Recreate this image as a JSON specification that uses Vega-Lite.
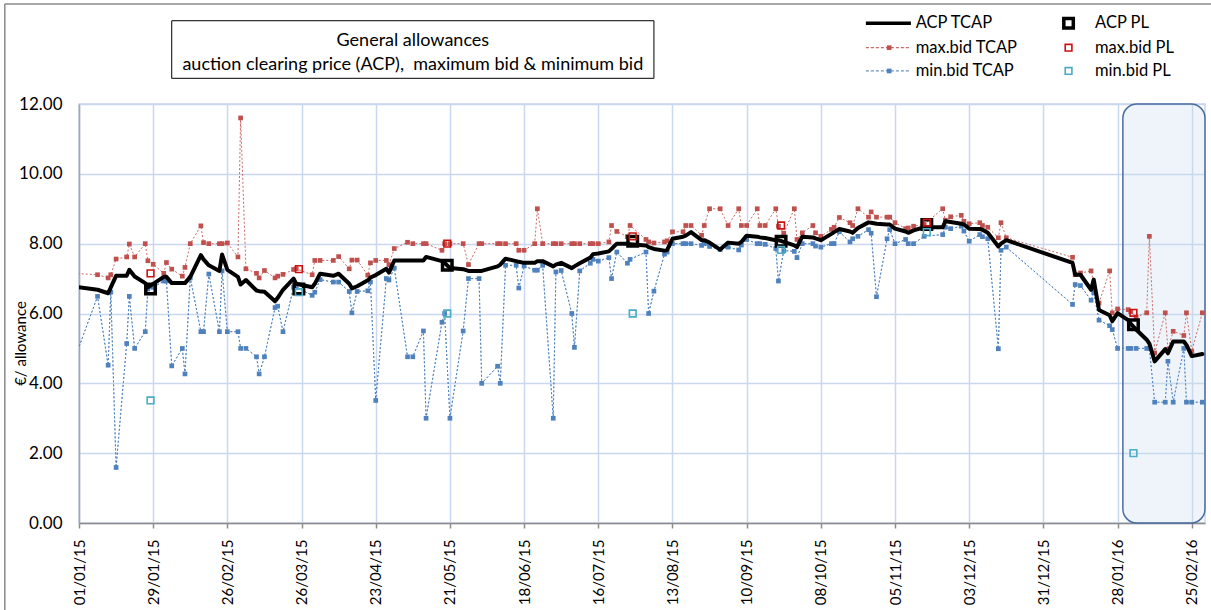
{
  "$schema": "https://vega.github.io/schema/vega-lite/v6.json",
  "width": 1126,
  "height": 419,
  "autosize": "none",
  "padding": {"left": 79, "top": 104, "right": 6, "bottom": 87},
  "background": "white",
  "config": {
    "view": {"stroke": "#c9d8ee", "strokeWidth": 1.5},
    "font": "Lato",
    "axisX": {"labelFont": "Lato", "labelFontSize": 15, "labelColor": "#000000"},
    "axisY": {
      "labelFont": "Lato", "labelFontSize": 17, "labelColor": "#000000", "labelPadding": 17,
      "titleFont": "Lato", "titleFontSize": 15, "titleFontWeight": "normal", "titleColor": "#000000"
    }
  },
  "datasets": {
    "tcap": [
      {"d": "2014/12/30", "mx": 7.15, "mn": 4.63, "acp": 6.77},
      {"d": "2015/01/08", "mx": 7.11, "mn": 6.49, "acp": 6.68},
      {"d": "2015/01/12", "mx": 7.02, "mn": 4.52, "acp": 6.58},
      {"d": "2015/01/13", "mx": 7.11, "mn": 6.61, "acp": 6.75},
      {"d": "2015/01/15", "mx": 7.56, "mn": 1.59, "acp": 7.08},
      {"d": "2015/01/19", "mx": 7.62, "mn": 5.14, "acp": 7.08},
      {"d": "2015/01/20", "mx": 7.99, "mn": 6.49, "acp": 7.25},
      {"d": "2015/01/22", "mx": 7.62, "mn": 5.0, "acp": 7.06},
      {"d": "2015/01/26", "mx": 8.0, "mn": 5.48, "acp": 6.87},
      {"d": "2015/01/27", "mx": 7.51, "mn": 6.7, "acp": 6.75},
      {"d": "2015/01/29", "mx": 7.41, "mn": 6.75, "acp": 6.85},
      {"d": "2015/02/02", "mx": 7.15, "mn": 6.93, "acp": 7.05},
      {"d": "2015/02/03", "mx": 7.46, "mn": 6.93, "acp": 7.05},
      {"d": "2015/02/05", "mx": 7.27, "mn": 4.5, "acp": 6.87},
      {"d": "2015/02/09", "mx": 7.07, "mn": 5.0, "acp": 6.87},
      {"d": "2015/02/10", "mx": 7.32, "mn": 4.27, "acp": 6.87},
      {"d": "2015/02/12", "mx": 8.0, "mn": 7.02, "acp": 7.05},
      {"d": "2015/02/16", "mx": 8.51, "mn": 5.48, "acp": 7.67},
      {"d": "2015/02/17", "mx": 8.03, "mn": 5.48, "acp": 7.55},
      {"d": "2015/02/19", "mx": 8.0, "mn": 7.13, "acp": 7.38},
      {"d": "2015/02/23", "mx": 8.0, "mn": 5.48, "acp": 7.22},
      {"d": "2015/02/24", "mx": 8.0, "mn": 7.22, "acp": 7.69},
      {"d": "2015/02/26", "mx": 8.02, "mn": 5.48, "acp": 7.25},
      {"d": "2015/03/02", "mx": 7.62, "mn": 5.48, "acp": 7.05},
      {"d": "2015/03/03", "mx": 11.6, "mn": 5.0, "acp": 6.83},
      {"d": "2015/03/05", "mx": 7.28, "mn": 5.0, "acp": 6.96},
      {"d": "2015/03/09", "mx": 7.15, "mn": 4.76, "acp": 6.66},
      {"d": "2015/03/10", "mx": 7.02, "mn": 4.27, "acp": 6.64},
      {"d": "2015/03/12", "mx": 7.23, "mn": 4.76, "acp": 6.62},
      {"d": "2015/03/16", "mx": 7.02, "mn": 6.17, "acp": 6.35},
      {"d": "2015/03/17", "mx": 7.07, "mn": 6.21, "acp": 6.45},
      {"d": "2015/03/19", "mx": 7.12, "mn": 5.48, "acp": 6.68},
      {"d": "2015/03/23", "mx": 7.26, "mn": 6.75, "acp": 7.0},
      {"d": "2015/03/24", "mx": 7.28, "mn": 6.75, "acp": 6.85},
      {"d": "2015/03/30", "mx": 7.11, "mn": 6.52, "acp": 6.75},
      {"d": "2015/03/31", "mx": 7.52, "mn": 6.61, "acp": 6.85},
      {"d": "2015/04/02", "mx": 7.52, "mn": 6.97, "acp": 7.14},
      {"d": "2015/04/07", "mx": 7.52, "mn": 6.9, "acp": 7.08},
      {"d": "2015/04/09", "mx": 7.63, "mn": 6.9, "acp": 7.14},
      {"d": "2015/04/13", "mx": 7.28, "mn": 6.63, "acp": 6.85},
      {"d": "2015/04/14", "mx": 7.53, "mn": 6.02, "acp": 6.72},
      {"d": "2015/04/16", "mx": 7.53, "mn": 6.63, "acp": 6.78},
      {"d": "2015/04/20", "mx": 7.1, "mn": 6.65, "acp": 6.95},
      {"d": "2015/04/21", "mx": 7.45, "mn": 6.9, "acp": 7.03},
      {"d": "2015/04/23", "mx": 7.52, "mn": 3.51, "acp": 7.1},
      {"d": "2015/04/27", "mx": 7.52, "mn": 7.0, "acp": 7.28},
      {"d": "2015/04/28", "mx": 7.4, "mn": 6.96, "acp": 7.17},
      {"d": "2015/04/30", "mx": 7.86, "mn": 7.3, "acp": 7.52},
      {"d": "2015/05/05", "mx": 8.04, "mn": 4.76, "acp": 7.52},
      {"d": "2015/05/07", "mx": 8.0, "mn": 4.76, "acp": 7.52},
      {"d": "2015/05/11", "mx": 8.0, "mn": 5.5, "acp": 7.52},
      {"d": "2015/05/12", "mx": 8.0, "mn": 3.0, "acp": 7.62},
      {"d": "2015/05/18", "mx": 7.81, "mn": 5.75, "acp": 7.5},
      {"d": "2015/05/19", "mx": 8.0, "mn": 6.0, "acp": 7.45},
      {"d": "2015/05/21", "mx": 8.0, "mn": 3.0, "acp": 7.3},
      {"d": "2015/05/26", "mx": 8.0, "mn": 5.5, "acp": 7.27},
      {"d": "2015/05/28", "mx": 7.4, "mn": 7.0, "acp": 7.22},
      {"d": "2015/06/01", "mx": 8.0, "mn": 7.0, "acp": 7.22},
      {"d": "2015/06/02", "mx": 8.0, "mn": 4.0, "acp": 7.22},
      {"d": "2015/06/08", "mx": 8.0, "mn": 4.49, "acp": 7.35},
      {"d": "2015/06/09", "mx": 8.0, "mn": 4.0, "acp": 7.4},
      {"d": "2015/06/11", "mx": 8.0, "mn": 7.38, "acp": 7.57},
      {"d": "2015/06/15", "mx": 8.0, "mn": 7.38, "acp": 7.5},
      {"d": "2015/06/16", "mx": 7.81, "mn": 6.73, "acp": 7.48},
      {"d": "2015/06/18", "mx": 7.81, "mn": 7.36, "acp": 7.45},
      {"d": "2015/06/22", "mx": 8.0, "mn": 7.24, "acp": 7.45},
      {"d": "2015/06/23", "mx": 9.0, "mn": 7.24, "acp": 7.5},
      {"d": "2015/06/25", "mx": 8.0, "mn": 7.38, "acp": 7.5},
      {"d": "2015/06/29", "mx": 8.0, "mn": 3.0, "acp": 7.35},
      {"d": "2015/06/30", "mx": 8.0, "mn": 7.19, "acp": 7.4},
      {"d": "2015/07/02", "mx": 8.0, "mn": 7.23, "acp": 7.45},
      {"d": "2015/07/06", "mx": 8.0, "mn": 6.0, "acp": 7.3},
      {"d": "2015/07/07", "mx": 8.0, "mn": 5.03, "acp": 7.35},
      {"d": "2015/07/09", "mx": 8.0, "mn": 7.22, "acp": 7.44},
      {"d": "2015/07/13", "mx": 8.0, "mn": 7.44, "acp": 7.6},
      {"d": "2015/07/14", "mx": 8.0, "mn": 7.55, "acp": 7.7},
      {"d": "2015/07/16", "mx": 8.0, "mn": 7.5, "acp": 7.72},
      {"d": "2015/07/20", "mx": 8.05, "mn": 7.6, "acp": 7.78},
      {"d": "2015/07/21", "mx": 8.52, "mn": 7.0, "acp": 7.85},
      {"d": "2015/07/23", "mx": 8.35, "mn": 7.76, "acp": 8.0},
      {"d": "2015/07/27", "mx": 8.2, "mn": 7.44, "acp": 8.0},
      {"d": "2015/07/28", "mx": 8.52, "mn": 7.55, "acp": 7.98},
      {"d": "2015/08/03", "mx": 8.12, "mn": 7.76, "acp": 7.95},
      {"d": "2015/08/04", "mx": 8.05, "mn": 6.0, "acp": 7.9},
      {"d": "2015/08/06", "mx": 8.02, "mn": 6.64, "acp": 7.85},
      {"d": "2015/08/10", "mx": 8.05, "mn": 7.7, "acp": 7.8},
      {"d": "2015/08/11", "mx": 8.08, "mn": 7.76, "acp": 7.82},
      {"d": "2015/08/13", "mx": 8.34, "mn": 8.0, "acp": 8.14},
      {"d": "2015/08/17", "mx": 8.34, "mn": 8.0, "acp": 8.2},
      {"d": "2015/08/18", "mx": 8.52, "mn": 8.0, "acp": 8.23},
      {"d": "2015/08/20", "mx": 8.52, "mn": 8.0, "acp": 8.33},
      {"d": "2015/08/24", "mx": 8.24, "mn": 7.95, "acp": 8.1},
      {"d": "2015/08/25", "mx": 8.52, "mn": 8.0, "acp": 8.1},
      {"d": "2015/08/27", "mx": 9.0, "mn": 7.92, "acp": 8.03},
      {"d": "2015/08/31", "mx": 9.0, "mn": 7.83, "acp": 7.83},
      {"d": "2015/09/03", "mx": 8.52, "mn": 7.9, "acp": 8.03},
      {"d": "2015/09/07", "mx": 9.0, "mn": 7.82, "acp": 8.0},
      {"d": "2015/09/08", "mx": 8.52, "mn": 7.96, "acp": 8.05},
      {"d": "2015/09/10", "mx": 8.52, "mn": 8.12, "acp": 8.23},
      {"d": "2015/09/14", "mx": 9.0, "mn": 8.0, "acp": 8.2},
      {"d": "2015/09/15", "mx": 8.52, "mn": 8.0, "acp": 8.18},
      {"d": "2015/09/17", "mx": 8.52, "mn": 7.98, "acp": 8.16},
      {"d": "2015/09/21", "mx": 9.0, "mn": 7.86, "acp": 8.1},
      {"d": "2015/09/22", "mx": 8.5, "mn": 6.93, "acp": 8.1},
      {"d": "2015/09/24", "mx": 8.3, "mn": 7.8, "acp": 8.05},
      {"d": "2015/09/28", "mx": 9.0, "mn": 7.78, "acp": 7.95},
      {"d": "2015/09/29", "mx": 8.12, "mn": 7.6, "acp": 7.9},
      {"d": "2015/10/01", "mx": 8.31, "mn": 8.0, "acp": 8.2},
      {"d": "2015/10/05", "mx": 8.52, "mn": 8.0, "acp": 8.18},
      {"d": "2015/10/06", "mx": 8.31, "mn": 7.93, "acp": 8.15},
      {"d": "2015/10/08", "mx": 8.21, "mn": 7.9, "acp": 8.1},
      {"d": "2015/10/12", "mx": 8.41, "mn": 8.0, "acp": 8.28},
      {"d": "2015/10/13", "mx": 8.47, "mn": 8.0, "acp": 8.33},
      {"d": "2015/10/15", "mx": 8.75, "mn": 8.34, "acp": 8.42},
      {"d": "2015/10/19", "mx": 8.6, "mn": 8.05, "acp": 8.35},
      {"d": "2015/10/20", "mx": 8.52, "mn": 8.14, "acp": 8.31},
      {"d": "2015/10/22", "mx": 9.0, "mn": 8.21, "acp": 8.45},
      {"d": "2015/10/26", "mx": 8.76, "mn": 8.4, "acp": 8.61},
      {"d": "2015/10/27", "mx": 8.91, "mn": 8.3, "acp": 8.6},
      {"d": "2015/10/29", "mx": 8.76, "mn": 6.48, "acp": 8.57},
      {"d": "2015/11/02", "mx": 8.76, "mn": 8.14, "acp": 8.55},
      {"d": "2015/11/03", "mx": 8.76, "mn": 8.4, "acp": 8.55},
      {"d": "2015/11/05", "mx": 8.6, "mn": 8.0, "acp": 8.43},
      {"d": "2015/11/09", "mx": 8.43, "mn": 8.12, "acp": 8.35},
      {"d": "2015/11/10", "mx": 8.45, "mn": 8.0, "acp": 8.31},
      {"d": "2015/11/12", "mx": 8.5, "mn": 8.0, "acp": 8.38},
      {"d": "2015/11/16", "mx": 8.55, "mn": 8.21, "acp": 8.47},
      {"d": "2015/11/23", "mx": 9.0, "mn": 8.26, "acp": 8.47},
      {"d": "2015/11/24", "mx": 8.67, "mn": 8.47, "acp": 8.64},
      {"d": "2015/11/26", "mx": 8.77, "mn": 8.43, "acp": 8.62},
      {"d": "2015/11/30", "mx": 8.81, "mn": 8.5, "acp": 8.57},
      {"d": "2015/12/01", "mx": 8.64, "mn": 8.36, "acp": 8.55},
      {"d": "2015/12/03", "mx": 8.57, "mn": 8.07, "acp": 8.43},
      {"d": "2015/12/07", "mx": 8.6, "mn": 8.26, "acp": 8.42},
      {"d": "2015/12/08", "mx": 8.52, "mn": 8.2, "acp": 8.4},
      {"d": "2015/12/10", "mx": 8.47, "mn": 8.14, "acp": 8.31},
      {"d": "2015/12/14", "mx": 8.17, "mn": 4.99, "acp": 7.92},
      {"d": "2015/12/15", "mx": 8.6, "mn": 7.81, "acp": 8.0},
      {"d": "2015/12/17", "mx": 8.17, "mn": 7.9, "acp": 8.1},
      {"d": "2016/01/11", "mx": 7.61, "mn": 6.26, "acp": 7.45},
      {"d": "2016/01/12", "mx": 7.11, "mn": 6.83, "acp": 7.11},
      {"d": "2016/01/14", "mx": 7.16, "mn": 6.8, "acp": 7.11},
      {"d": "2016/01/18", "mx": 7.22, "mn": 6.38, "acp": 6.68},
      {"d": "2016/01/19", "mx": 6.87, "mn": 6.6, "acp": 6.97},
      {"d": "2016/01/21", "mx": 6.3, "mn": 5.81, "acp": 6.1},
      {"d": "2016/01/25", "mx": 7.22, "mn": 5.65, "acp": 5.95},
      {"d": "2016/01/26", "mx": 6.02, "mn": 5.54, "acp": 5.78},
      {"d": "2016/01/28", "mx": 6.13, "mn": 5.0, "acp": 6.01},
      {"d": "2016/02/01", "mx": 6.11, "mn": 5.0, "acp": 5.81},
      {"d": "2016/02/02", "mx": 6.05, "mn": 5.0, "acp": 5.7},
      {"d": "2016/02/04", "mx": 5.9, "mn": 5.0, "acp": 5.54},
      {"d": "2016/02/08", "mx": 6.02, "mn": 5.0, "acp": 5.25},
      {"d": "2016/02/09", "mx": 8.21, "mn": 5.0, "acp": 5.14},
      {"d": "2016/02/11", "mx": 4.87, "mn": 3.46, "acp": 4.63},
      {"d": "2016/02/15", "mx": 6.02, "mn": 3.46, "acp": 4.98},
      {"d": "2016/02/16", "mx": 4.98, "mn": 4.63, "acp": 4.86},
      {"d": "2016/02/18", "mx": 5.49, "mn": 3.46, "acp": 5.2},
      {"d": "2016/02/22", "mx": 5.37, "mn": 5.0, "acp": 5.2},
      {"d": "2016/02/23", "mx": 6.02, "mn": 3.46, "acp": 5.1},
      {"d": "2016/02/25", "mx": 4.92, "mn": 3.46, "acp": 4.78},
      {"d": "2016/02/29", "mx": 6.02, "mn": 3.46, "acp": 4.84}
    ],
    "pl": [
      {"d": "2015/01/28", "acp": 6.7, "mx": 7.15, "mn": 3.51},
      {"d": "2015/03/25", "acp": 6.7, "mx": 7.27, "mn": 6.61},
      {"d": "2015/05/20", "acp": 7.38, "mx": 8.0, "mn": 6.0},
      {"d": "2015/07/29", "acp": 8.07, "mx": 8.21, "mn": 6.0},
      {"d": "2015/09/23", "acp": 8.07, "mx": 8.52, "mn": 7.82},
      {"d": "2015/11/17", "acp": 8.55, "mx": 8.6, "mn": 8.33},
      {"d": "2016/02/03", "acp": 5.68, "mx": 6.02, "mn": 2.0}
    ]
  },
  "layer": [
    {
      "data": {"name": "tcap"},
      "mark": {"type": "line", "strokeWidth": 1, "strokeDash": [2, 2], "opacity": 0.85, "clip": true},
      "encoding": {
        "x": {
          "field": "d", "type": "temporal",
          "scale": {"domain": [{"year": 2015, "month": 1, "date": 1}, {"year": 2016, "month": 3, "date": 1}], "nice": false},
          "axis": {
            "title": null,
            "values": [
              {"year": 2015, "month": 1, "date": 1}, {"year": 2015, "month": 1, "date": 8}, {"year": 2015, "month": 1, "date": 15}, {"year": 2015, "month": 1, "date": 22}, {"year": 2015, "month": 1, "date": 29},
              {"year": 2015, "month": 2, "date": 5}, {"year": 2015, "month": 2, "date": 12}, {"year": 2015, "month": 2, "date": 19}, {"year": 2015, "month": 2, "date": 26},
              {"year": 2015, "month": 3, "date": 5}, {"year": 2015, "month": 3, "date": 12}, {"year": 2015, "month": 3, "date": 19}, {"year": 2015, "month": 3, "date": 26},
              {"year": 2015, "month": 4, "date": 2}, {"year": 2015, "month": 4, "date": 9}, {"year": 2015, "month": 4, "date": 16}, {"year": 2015, "month": 4, "date": 23}, {"year": 2015, "month": 4, "date": 30},
              {"year": 2015, "month": 5, "date": 7}, {"year": 2015, "month": 5, "date": 14}, {"year": 2015, "month": 5, "date": 21}, {"year": 2015, "month": 5, "date": 28},
              {"year": 2015, "month": 6, "date": 4}, {"year": 2015, "month": 6, "date": 11}, {"year": 2015, "month": 6, "date": 18}, {"year": 2015, "month": 6, "date": 25},
              {"year": 2015, "month": 7, "date": 2}, {"year": 2015, "month": 7, "date": 9}, {"year": 2015, "month": 7, "date": 16}, {"year": 2015, "month": 7, "date": 23}, {"year": 2015, "month": 7, "date": 30},
              {"year": 2015, "month": 8, "date": 6}, {"year": 2015, "month": 8, "date": 13}, {"year": 2015, "month": 8, "date": 20}, {"year": 2015, "month": 8, "date": 27},
              {"year": 2015, "month": 9, "date": 3}, {"year": 2015, "month": 9, "date": 10}, {"year": 2015, "month": 9, "date": 17}, {"year": 2015, "month": 9, "date": 24},
              {"year": 2015, "month": 10, "date": 1}, {"year": 2015, "month": 10, "date": 8}, {"year": 2015, "month": 10, "date": 15}, {"year": 2015, "month": 10, "date": 22}, {"year": 2015, "month": 10, "date": 29},
              {"year": 2015, "month": 11, "date": 5}, {"year": 2015, "month": 11, "date": 12}, {"year": 2015, "month": 11, "date": 19}, {"year": 2015, "month": 11, "date": 26},
              {"year": 2015, "month": 12, "date": 3}, {"year": 2015, "month": 12, "date": 10}, {"year": 2015, "month": 12, "date": 17}, {"year": 2015, "month": 12, "date": 24}, {"year": 2015, "month": 12, "date": 31},
              {"year": 2016, "month": 1, "date": 7}, {"year": 2016, "month": 1, "date": 14}, {"year": 2016, "month": 1, "date": 21}, {"year": 2016, "month": 1, "date": 28},
              {"year": 2016, "month": 2, "date": 4}, {"year": 2016, "month": 2, "date": 11}, {"year": 2016, "month": 2, "date": 18}, {"year": 2016, "month": 2, "date": 25}
            ],
            "labelExpr": "(round((datum.value - datetime(2015,0,1))/86400000) % 14 == 0) ? timeFormat(datum.value, '%d/%m/%y') : ''",
            "labelAngle": -90,
            "labelPadding": 11,
            "labelOverlap": false,
            "labelFlush": false,
            "labelBound": false,
            "tickColor": "#8c8c8c",
            "tickWidth": 1.5,
            "tickSize": {"condition": {"test": "round((datum.value - datetime(2015,0,1))/86400000) % 14 != 0", "value": 3}, "value": 5},
            "domainColor": "#8c8c8c",
            "domainWidth": 1.5,
            "grid": true,
            "gridColor": "#c9d8ee",
            "gridWidth": 1.5,
            "gridOpacity": {"condition": {"test": "round((datum.value - datetime(2015,0,1))/86400000) % 14 != 0", "value": 0}, "value": 1}
          }
        },
        "y": {
          "field": "mn", "type": "quantitative",
          "scale": {"domain": [0, 12], "nice": false},
          "axis": {
            "values": [0, 1, 2, 3, 4, 5, 6, 7, 8, 9, 10, 11, 12],
            "labelExpr": "datum.value % 2 == 0 ? format(datum.value, '.2f') : ''",
            "labelFont": "Lato",
            "labelFontSize": 17,
            "labelOverlap": false,
            "ticks": false,
            "domainColor": "#a6a6a6",
            "domainWidth": 1.5,
            "grid": true,
            "gridColor": {"condition": {"test": "datum.value % 2 == 1", "value": "#bfbfbf"}, "value": "#c9d8ee"},
            "gridDash": {"condition": {"test": "datum.value % 2 == 1", "value": [4, 3]}, "value": []},
            "gridWidth": {"condition": {"test": "datum.value % 2 == 1", "value": 1}, "value": 1.5},
            "title": "€/ allowance",
            "titleFontSize": 15,
            "titleFontWeight": "normal",
            "titleAngle": 270,
            "titleAlign": "center",
            "titleBaseline": "middle",
            "titleX": -59,
            "titleY": 239
          }
        },
        "color": {
          "datum": "min.bid TCAP", "type": "nominal",
          "scale": {
            "domain": ["ACP TCAP", "max.bid TCAP", "min.bid TCAP", "ACP PL", "max.bid PL", "min.bid PL"],
            "range": ["#000000", "#c0504d", "#4f81bd", "#000000", "#cc1111", "#4bacc6"]
          },
          "legend": null
        }
      }
    },
    {
      "data": {"values": [{}]},
      "mark": {"type": "rect", "fill": "#c6d6ec", "fillOpacity": 0.28, "stroke": "#4a6da0", "strokeWidth": 1.5, "cornerRadius": 14},
      "encoding": {
        "x": {"datum": {"year": 2016, "month": 1, "date": 30}, "type": "temporal"},
        "x2": {"datum": {"year": 2016, "month": 3, "date": 1}},
        "y": {"datum": 0, "type": "quantitative"},
        "y2": {"datum": 12}
      }
    },
    {
      "data": {"name": "tcap"},
      "mark": {"type": "line", "strokeWidth": 1, "strokeDash": [2, 2], "opacity": 0.85, "clip": true},
      "encoding": {
        "x": {"field": "d", "type": "temporal"},
        "y": {"field": "mn", "type": "quantitative"},
        "color": {"datum": "min.bid TCAP", "type": "nominal", "legend": null}
      }
    },
    {
      "data": {"name": "tcap"},
      "mark": {"type": "point", "shape": "square", "filled": true, "size": 22, "opacity": 1, "clip": true},
      "encoding": {
        "x": {"field": "d", "type": "temporal"},
        "y": {"field": "mn", "type": "quantitative"},
        "color": {"datum": "min.bid TCAP", "type": "nominal", "legend": null}
      }
    },
    {
      "data": {"name": "tcap"},
      "mark": {"type": "line", "strokeWidth": 1, "strokeDash": [2, 2], "opacity": 0.85, "clip": true},
      "encoding": {
        "x": {"field": "d", "type": "temporal"},
        "y": {"field": "mx", "type": "quantitative"},
        "color": {"datum": "max.bid TCAP", "type": "nominal", "legend": null}
      }
    },
    {
      "data": {"name": "tcap"},
      "mark": {"type": "point", "shape": "square", "filled": true, "size": 22, "opacity": 1, "clip": true},
      "encoding": {
        "x": {"field": "d", "type": "temporal"},
        "y": {"field": "mx", "type": "quantitative"},
        "color": {"datum": "max.bid TCAP", "type": "nominal", "legend": null}
      }
    },
    {
      "data": {"name": "tcap"},
      "mark": {"type": "line", "strokeWidth": 4, "strokeJoin": "round", "strokeCap": "round", "clip": true},
      "encoding": {
        "x": {"field": "d", "type": "temporal"},
        "y": {"field": "acp", "type": "quantitative"},
        "color": {"datum": "ACP TCAP", "type": "nominal", "legend": null}
      }
    },
    {
      "data": {"name": "pl"},
      "mark": {"type": "point", "shape": "square", "filled": false, "size": 90, "strokeWidth": 3.5, "opacity": 1},
      "encoding": {
        "x": {"field": "d", "type": "temporal"},
        "y": {"field": "acp", "type": "quantitative"},
        "color": {"datum": "ACP PL", "type": "nominal", "legend": null}
      }
    },
    {
      "data": {"name": "pl"},
      "mark": {"type": "point", "shape": "square", "filled": false, "size": 45, "strokeWidth": 1.6, "opacity": 1},
      "encoding": {
        "x": {"field": "d", "type": "temporal"},
        "y": {"field": "mx", "type": "quantitative"},
        "color": {"datum": "max.bid PL", "type": "nominal", "legend": null}
      }
    },
    {
      "data": {"name": "pl"},
      "mark": {"type": "point", "shape": "square", "filled": false, "size": 45, "strokeWidth": 1.6, "opacity": 1},
      "encoding": {
        "x": {"field": "d", "type": "temporal"},
        "y": {"field": "mn", "type": "quantitative"},
        "color": {"datum": "min.bid PL", "type": "nominal", "legend": null}
      }
    },
    {
      "data": {"values": [{}]},
      "mark": {"type": "rect", "fill": "white", "stroke": "#000000", "strokeWidth": 1},
      "encoding": {
        "x": {"datum": {"year": 2015, "month": 2, "date": 5}, "type": "temporal"},
        "x2": {"datum": {"year": 2015, "month": 8, "date": 6}},
        "y": {"datum": 12.736, "type": "quantitative"},
        "y2": {"datum": 14.385}
      }
    },
    {
      "data": {"values": [{}]},
      "mark": {"type": "text", "text": "General allowances", "font": "Lato", "fontSize": 18, "color": "#000000", "align": "center", "baseline": "middle"},
      "encoding": {
        "x": {"datum": {"year": 2015, "month": 5, "date": 7}, "type": "temporal"},
        "y": {"datum": 13.818, "type": "quantitative"}
      }
    },
    {
      "data": {"values": [{}]},
      "mark": {"type": "text", "text": "auction clearing price (ACP),\u00a0 maximum bid & minimum bid", "font": "Lato", "fontSize": 18, "color": "#000000", "align": "center", "baseline": "middle"},
      "encoding": {
        "x": {"datum": {"year": 2015, "month": 5, "date": 7}, "type": "temporal"},
        "y": {"datum": 13.117, "type": "quantitative"}
      }
    },
    {
      "data": {"values": [{}]},
      "mark": {"type": "rule", "stroke": "#000000", "strokeWidth": 3.5},
      "encoding": {
        "x": {"datum": {"year": 2015, "month": 10, "date": 25}, "type": "temporal"},
        "x2": {"datum": {"year": 2015, "month": 11, "date": 11}},
        "y": {"datum": 14.311, "type": "quantitative"}
      }
    },
    {
      "data": {"values": [{}]},
      "mark": {"type": "rule", "stroke": "#c0504d", "strokeWidth": 1.2, "strokeDash": [3, 2], "opacity": 0.85},
      "encoding": {
        "x": {"datum": {"year": 2015, "month": 10, "date": 25}, "type": "temporal"},
        "x2": {"datum": {"year": 2015, "month": 11, "date": 11}},
        "y": {"datum": 13.613, "type": "quantitative"}
      }
    },
    {
      "data": {"values": [{}]},
      "mark": {"type": "rule", "stroke": "#4f81bd", "strokeWidth": 1.2, "strokeDash": [3, 2], "opacity": 0.85},
      "encoding": {
        "x": {"datum": {"year": 2015, "month": 10, "date": 25}, "type": "temporal"},
        "x2": {"datum": {"year": 2015, "month": 11, "date": 11}},
        "y": {"datum": 12.946, "type": "quantitative"}
      }
    },
    {
      "data": {"values": [{}]},
      "mark": {"type": "point", "shape": "square", "filled": true, "size": 22, "color": "#c0504d", "opacity": 1},
      "encoding": {
        "x": {"datum": {"year": 2015, "month": 11, "date": 2, "hours": 19}, "type": "temporal"},
        "y": {"datum": 13.613, "type": "quantitative"}
      }
    },
    {
      "data": {"values": [{}]},
      "mark": {"type": "point", "shape": "square", "filled": true, "size": 22, "color": "#4f81bd", "opacity": 1},
      "encoding": {
        "x": {"datum": {"year": 2015, "month": 11, "date": 2, "hours": 19}, "type": "temporal"},
        "y": {"datum": 12.946, "type": "quantitative"}
      }
    },
    {
      "data": {"values": [{}]},
      "mark": {"type": "point", "shape": "square", "filled": false, "size": 90, "strokeWidth": 3.5, "color": "#000000", "opacity": 1},
      "encoding": {
        "x": {"datum": {"year": 2016, "month": 1, "date": 9, "hours": 12}, "type": "temporal"},
        "y": {"datum": 14.311, "type": "quantitative"}
      }
    },
    {
      "data": {"values": [{}]},
      "mark": {"type": "point", "shape": "square", "filled": false, "size": 45, "strokeWidth": 1.6, "color": "#cc1111", "opacity": 1},
      "encoding": {
        "x": {"datum": {"year": 2016, "month": 1, "date": 9, "hours": 12}, "type": "temporal"},
        "y": {"datum": 13.613, "type": "quantitative"}
      }
    },
    {
      "data": {"values": [{}]},
      "mark": {"type": "point", "shape": "square", "filled": false, "size": 45, "strokeWidth": 1.6, "color": "#4bacc6", "opacity": 1},
      "encoding": {
        "x": {"datum": {"year": 2016, "month": 1, "date": 9, "hours": 12}, "type": "temporal"},
        "y": {"datum": 12.946, "type": "quantitative"}
      }
    },
    {
      "data": {"values": [{}]},
      "mark": {"type": "text", "text": "ACP TCAP", "font": "Lato", "fontSize": 16.5, "color": "#000000", "align": "left", "baseline": "middle"},
      "encoding": {
        "x": {"datum": {"year": 2015, "month": 11, "date": 12, "hours": 19}, "type": "temporal"},
        "y": {"datum": 14.311, "type": "quantitative"}
      }
    },
    {
      "data": {"values": [{}]},
      "mark": {"type": "text", "text": "max.bid TCAP", "font": "Lato", "fontSize": 16.5, "color": "#000000", "align": "left", "baseline": "middle"},
      "encoding": {
        "x": {"datum": {"year": 2015, "month": 11, "date": 12, "hours": 19}, "type": "temporal"},
        "y": {"datum": 13.613, "type": "quantitative"}
      }
    },
    {
      "data": {"values": [{}]},
      "mark": {"type": "text", "text": "min.bid TCAP", "font": "Lato", "fontSize": 16.5, "color": "#000000", "align": "left", "baseline": "middle"},
      "encoding": {
        "x": {"datum": {"year": 2015, "month": 11, "date": 12, "hours": 19}, "type": "temporal"},
        "y": {"datum": 12.946, "type": "quantitative"}
      }
    },
    {
      "data": {"values": [{}]},
      "mark": {"type": "text", "text": "ACP PL", "font": "Lato", "fontSize": 16.5, "color": "#000000", "align": "left", "baseline": "middle"},
      "encoding": {
        "x": {"datum": {"year": 2016, "month": 1, "date": 19, "hours": 12}, "type": "temporal"},
        "y": {"datum": 14.311, "type": "quantitative"}
      }
    },
    {
      "data": {"values": [{}]},
      "mark": {"type": "text", "text": "max.bid PL", "font": "Lato", "fontSize": 16.5, "color": "#000000", "align": "left", "baseline": "middle"},
      "encoding": {
        "x": {"datum": {"year": 2016, "month": 1, "date": 19, "hours": 12}, "type": "temporal"},
        "y": {"datum": 13.613, "type": "quantitative"}
      }
    },
    {
      "data": {"values": [{}]},
      "mark": {"type": "text", "text": "min.bid PL", "font": "Lato", "fontSize": 16.5, "color": "#000000", "align": "left", "baseline": "middle"},
      "encoding": {
        "x": {"datum": {"year": 2016, "month": 1, "date": 19, "hours": 12}, "type": "temporal"},
        "y": {"datum": 12.946, "type": "quantitative"}
      }
    },
    {
      "data": {"values": [{}]},
      "mark": {"type": "rule", "stroke": "#8a8a8a", "strokeWidth": 1.5},
      "encoding": {
        "x": {"datum": {"year": 2014, "month": 12, "date": 4}, "type": "temporal"},
        "x2": {"datum": {"year": 2016, "month": 3, "date": 6}},
        "y": {"datum": 14.864, "type": "quantitative"}
      }
    },
    {
      "data": {"values": [{}]},
      "mark": {"type": "rule", "stroke": "#8a8a8a", "strokeWidth": 1.5},
      "encoding": {
        "x": {"datum": {"year": 2014, "month": 12, "date": 4}, "type": "temporal"},
        "y": {"datum": 14.864, "type": "quantitative"},
        "y2": {"datum": -2.6}
      }
    }
  ]
}
